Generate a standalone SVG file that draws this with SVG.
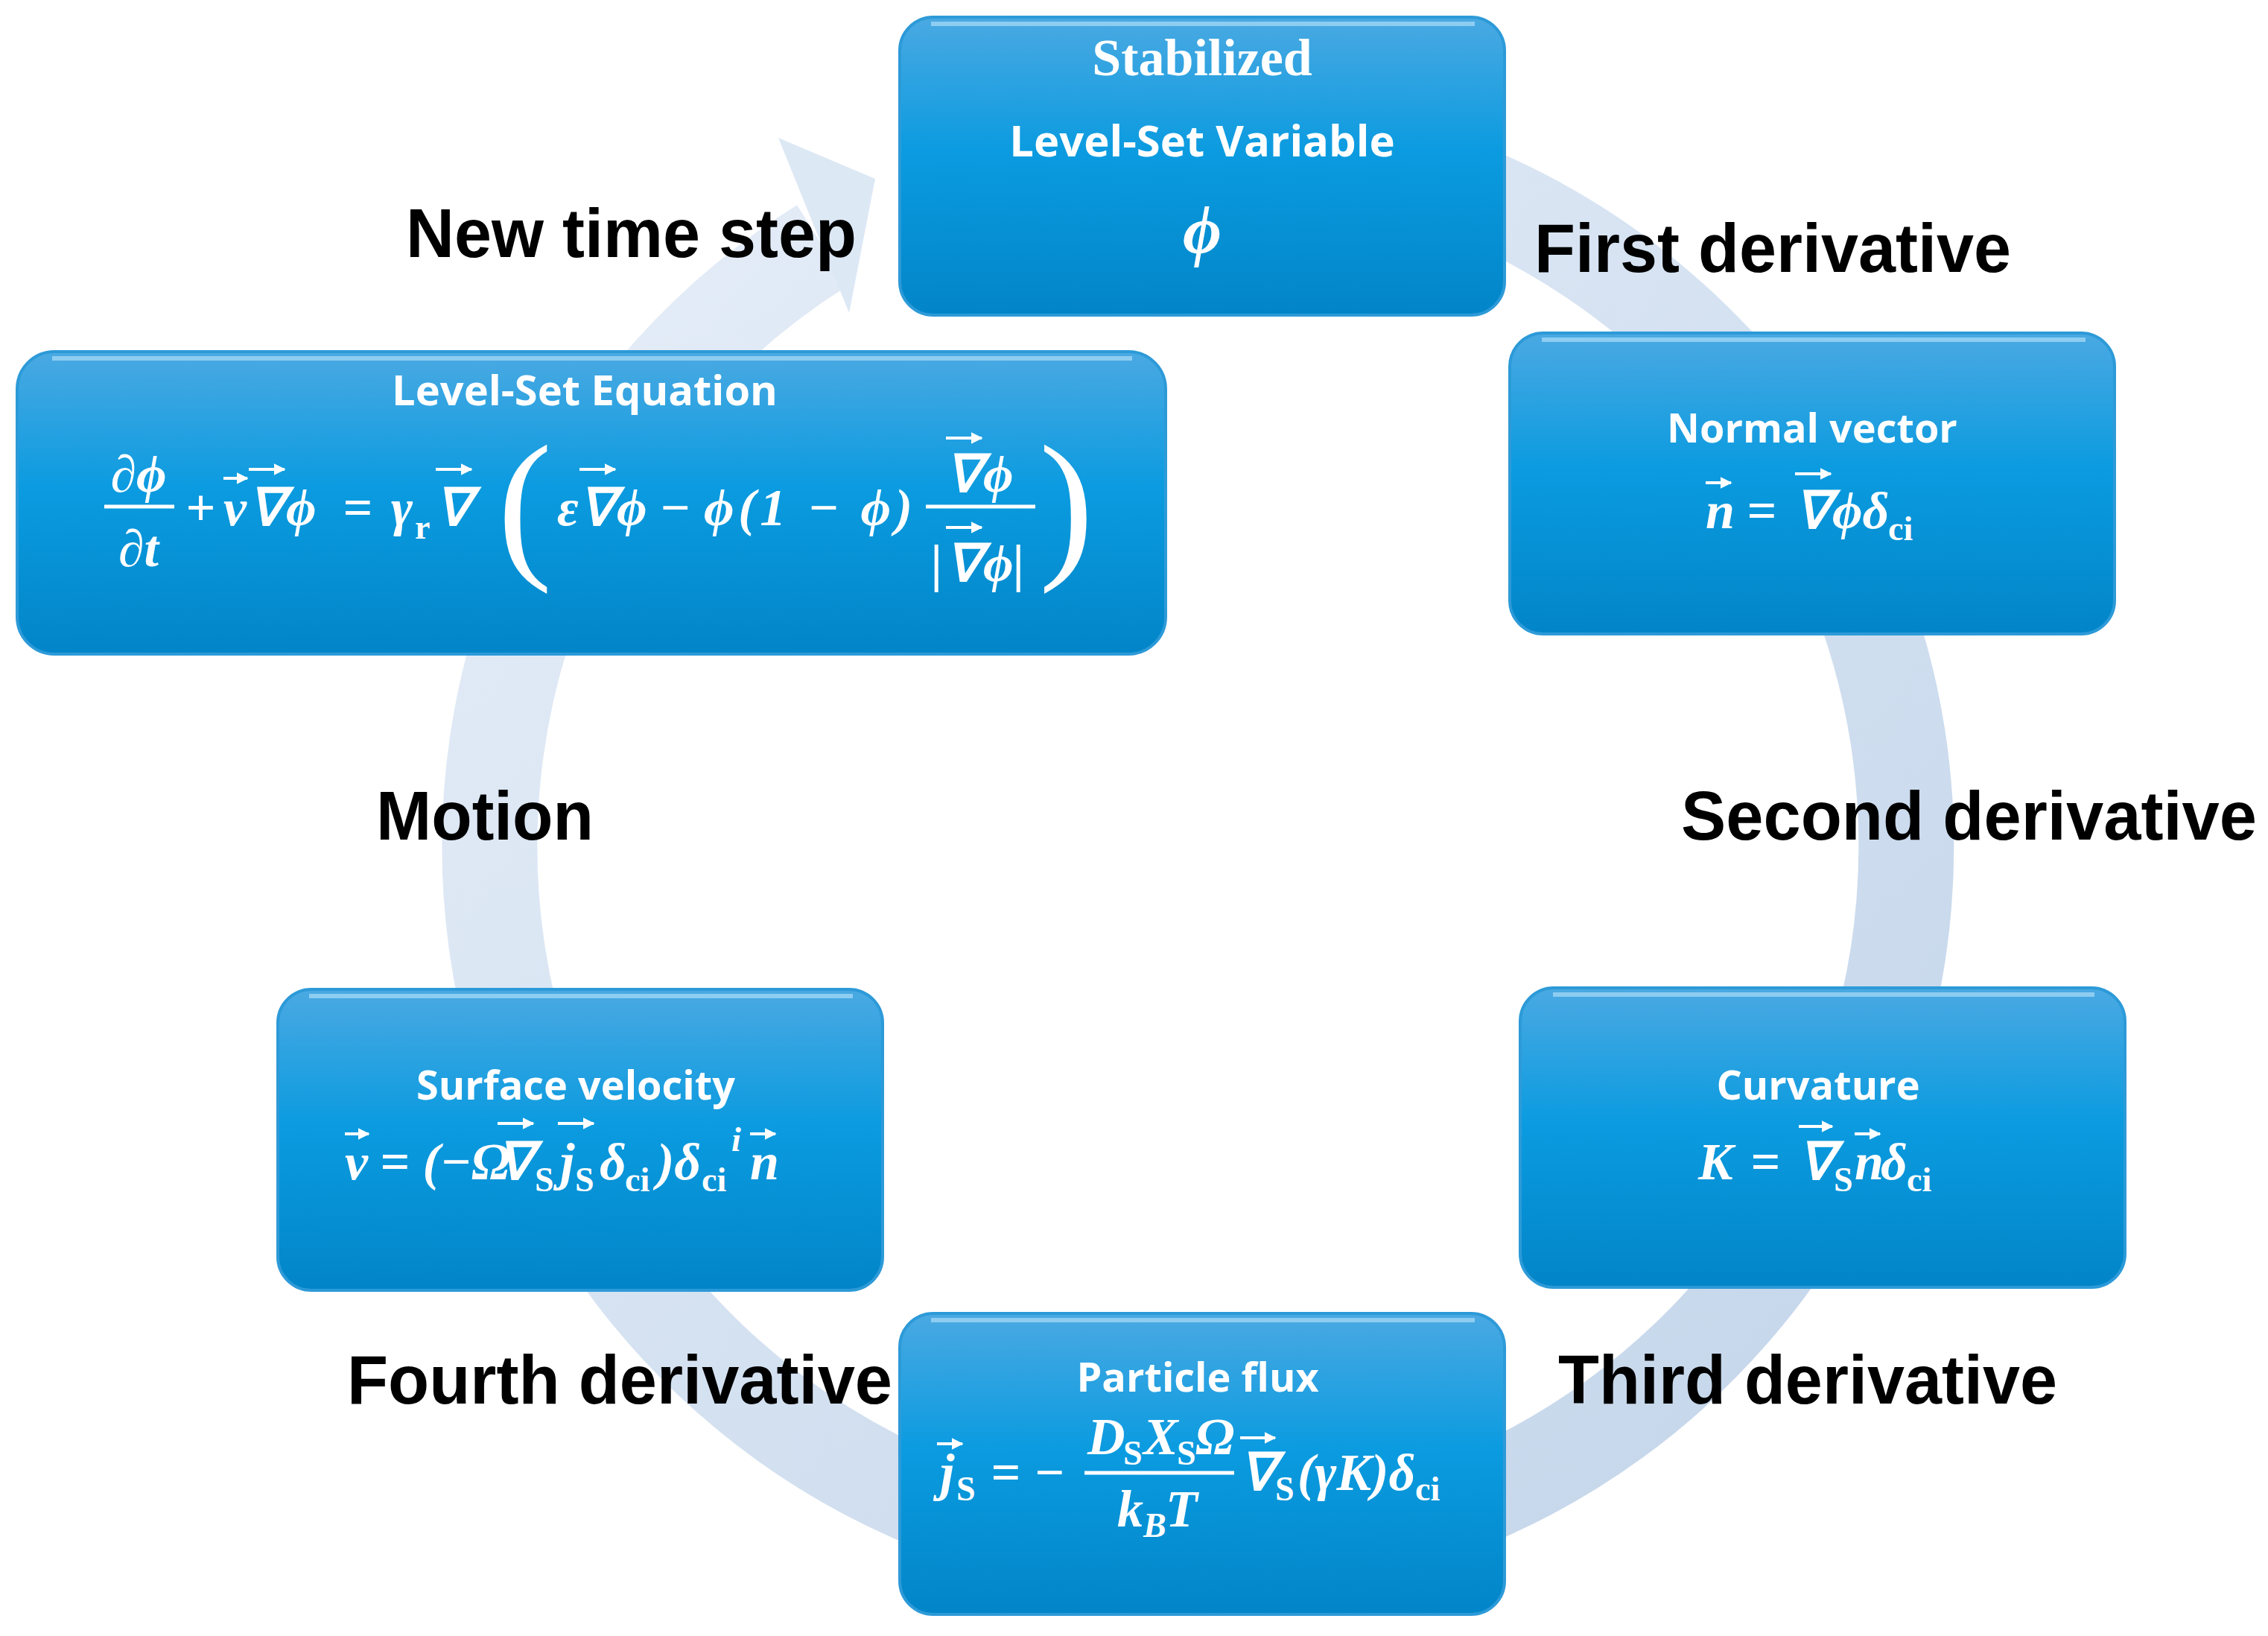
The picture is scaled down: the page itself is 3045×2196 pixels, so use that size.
<svg xmlns="http://www.w3.org/2000/svg" width="3045" height="2196" viewBox="0 0 3045 2196">
<defs>
<linearGradient id="bg" x1="0" y1="0" x2="0" y2="1">
<stop offset="0" stop-color="#4aa9e2"/><stop offset="0.45" stop-color="#0b9be0"/><stop offset="1" stop-color="#0285c8"/>
</linearGradient>
<linearGradient id="ringg" x1="0" y1="0" x2="1" y2="1">
<stop offset="0" stop-color="#e6eef8"/><stop offset="1" stop-color="#c3d5ea"/>
</linearGradient>
<marker id="ah" viewBox="0 0 10 10" refX="9" refY="5" markerWidth="4" markerHeight="4" orient="auto" markerUnits="strokeWidth">
<path d="M0,0 L10,5 L0,10 z" fill="#fff"/>
</marker>
<style>
.box{fill:url(#bg);stroke:#2d9ad8;stroke-width:4}
.hl{fill:none;stroke:#9fd6f5;stroke-width:6;opacity:0.8}
.t{font-family:"Open Sans","Liberation Sans",sans-serif;font-weight:bold;fill:#fff;text-anchor:middle}
.mi{font-family:"Liberation Serif",serif;font-weight:bold;font-style:italic;fill:#fff;font-size:70px}
.mr{font-family:"Liberation Serif",serif;font-weight:bold;font-style:normal;fill:#fff;font-size:46px}
.pa{font-family:"Liberation Serif",serif;font-weight:normal;font-style:normal;fill:#fff;font-size:220px}
.vec{stroke:#fff;stroke-width:4;fill:none;marker-end:url(#ah)}
.lab{font-family:"Liberation Sans",Arial,sans-serif;font-weight:bold;fill:#000;font-size:92px}
</style>
</defs>
<g id="connectors">
<path d="M1854,217 A951,951 0 1 1 1104,329.5" fill="none" stroke="url(#ringg)" stroke-width="128"/>
<polygon points="1045,185 1175,240 1140,420" fill="#dde8f5"/>
</g>
<g id="labels">
<text class="lab" x="545" y="345" textLength="605" lengthAdjust="spacingAndGlyphs">New time step</text>
<text class="lab" x="2060" y="365" textLength="640" lengthAdjust="spacingAndGlyphs">First derivative</text>
<text class="lab" x="2257" y="1127" textLength="773" lengthAdjust="spacingAndGlyphs">Second derivative</text>
<text class="lab" x="505" y="1127" textLength="292" lengthAdjust="spacingAndGlyphs">Motion</text>
<text class="lab" x="466" y="1884" textLength="732" lengthAdjust="spacingAndGlyphs">Fourth derivative</text>
<text class="lab" x="2092" y="1884" textLength="670" lengthAdjust="spacingAndGlyphs">Third derivative</text>
</g>
<g id="top">
<rect class="box" x="1208" y="23" width="812" height="400" rx="45"/>
<path class="hl" d="M1250,32 H1980"/>
<text class="t" x="1614" y="101" font-size="70" style="font-family:'Liberation Serif',serif">Stabilized</text>
<text class="t" x="1614" y="210" font-size="58">Level-Set Variable</text>
<text class="mi" x="1614" y="340" style="font-size:90px" text-anchor="middle">ϕ</text>
</g>
<g id="levelset">
<rect class="box" x="23" y="472" width="1542" height="406" rx="50"/>
<path class="hl" d="M70,481 H1520"/>
<text class="t" x="785" y="544" font-size="56">Level-Set Equation</text>
<text class="mi" x="186" y="660" text-anchor="middle">∂ϕ</text>
<line x1="140" y1="680" x2="234" y2="680" stroke="#fff" stroke-width="5"/>
<text class="mi" x="186" y="760" text-anchor="middle">∂t</text>
<text class="mi" x="249" y="705">+</text>
<text class="mi" x="300" y="705">v</text><path class="vec" d="M300,642 H332"/>
<text class="mi" x="334" y="705">∇</text><path class="vec" d="M334,630 H382"/>
<text class="mi" x="384" y="705">ϕ</text>
<text class="mi" x="460" y="705">=</text>
<text class="mi" x="525" y="705">γ</text><text class="mr" x="557" y="723">r</text>
<text class="mi" x="585" y="705">∇</text><path class="vec" d="M585,630 H633"/>
<text class="pa" x="668" y="750">(</text>
<text class="mi" x="748" y="705">ε</text>
<text class="mi" x="778" y="705">∇</text><path class="vec" d="M778,630 H826"/>
<text class="mi" x="828" y="705">ϕ</text>
<text class="mi" x="885" y="705">−</text>
<text class="mi" x="945" y="705" textLength="280">ϕ(1 − ϕ)</text>
<text class="mi" x="1270" y="660">∇</text><path class="vec" d="M1270,588 H1318"/>
<text class="mi" x="1320" y="660">ϕ</text>
<line x1="1243" y1="680" x2="1390" y2="680" stroke="#fff" stroke-width="5"/>
<text class="mi" x="1250" y="780">|</text>
<text class="mi" x="1270" y="780">∇</text><path class="vec" d="M1270,708 H1318"/>
<text class="mi" x="1320" y="780">ϕ</text>
<text class="mi" x="1360" y="780">|</text>
<text class="pa" x="1395" y="750">)</text>
</g>
<g id="normal">
<rect class="box" x="2027" y="447" width="812" height="404" rx="45"/>
<path class="hl" d="M2070,456 H2800"/>
<text class="t" x="2433" y="594" font-size="54">Normal vector</text>
<text class="mi" x="2290" y="709">n</text><path class="vec" d="M2290,648 H2324"/>
<text class="mi" x="2345" y="709">=</text>
<text class="mi" x="2410" y="709">∇</text><path class="vec" d="M2410,636 H2458"/>
<text class="mi" x="2460" y="709">ϕδ</text>
<text class="mr" x="2535" y="725">ci</text>
</g>
<g id="curvature">
<rect class="box" x="2041" y="1326" width="812" height="402" rx="45"/>
<path class="hl" d="M2085,1335 H2812"/>
<text class="t" x="2441" y="1476" font-size="54">Curvature</text>
<text class="mi" x="2280" y="1583">K</text>
<text class="mi" x="2350" y="1583">=</text>
<text class="mi" x="2415" y="1583">∇</text><path class="vec" d="M2415,1512 H2460"/>
<text class="mr" x="2462" y="1599">S</text>
<text class="mi" x="2490" y="1583">n</text><path class="vec" d="M2490,1522 H2524"/>
<text class="mi" x="2525" y="1583">δ</text>
<text class="mr" x="2560" y="1599">ci</text>
</g>
<g id="flux">
<rect class="box" x="1208" y="1763" width="812" height="404" rx="45"/>
<path class="hl" d="M1250,1772 H1980"/>
<text class="t" x="1608" y="1868" font-size="54">Particle flux</text>
<text class="mi" x="1262" y="2000">j</text><path class="vec" d="M1258,1938 H1292"/>
<text class="mr" x="1284" y="2014">S</text>
<text class="mi" x="1330" y="2000">= −</text>
<text class="mi" x="1460" y="1952">D</text><text class="mr" x="1508" y="1966">S</text>
<text class="mi" x="1535" y="1952">X</text><text class="mr" x="1580" y="1966">S</text>
<text class="mi" x="1605" y="1952">Ω</text>
<line x1="1456" y1="1977" x2="1657" y2="1977" stroke="#fff" stroke-width="5"/>
<text class="mi" x="1500" y="2049">k</text><text class="mr" x="1535" y="2063" style="font-style:italic">B</text>
<text class="mi" x="1565" y="2049">T</text>
<text class="mi" x="1665" y="2000">∇</text><path class="vec" d="M1665,1930 H1712"/>
<text class="mr" x="1712" y="2014">S</text>
<text class="mi" x="1742" y="2000">(γK)δ</text>
<text class="mr" x="1900" y="2014">ci</text>
</g>
<g id="velocity">
<rect class="box" x="373" y="1328" width="812" height="404" rx="45"/>
<path class="hl" d="M415,1337 H1145"/>
<text class="t" x="773" y="1476" font-size="54">Surface velocity</text>
<text class="mi" x="463" y="1583">v</text><path class="vec" d="M463,1522 H495"/>
<text class="mi" x="510" y="1583">= (−Ω</text>
<text class="mi" x="668" y="1583">∇</text><path class="vec" d="M668,1508 H716"/>
<text class="mr" x="718" y="1599">S</text>
<text class="mi" x="752" y="1583">j</text><path class="vec" d="M749,1508 H797"/>
<text class="mr" x="772" y="1599">S</text>
<text class="mi" x="805" y="1583">δ</text>
<text class="mr" x="839" y="1599">ci</text>
<text class="mi" x="882" y="1583">)δ</text>
<text class="mr" x="942" y="1599">ci</text>
<text class="mr" x="982" y="1545" style="font-style:italic">i</text>
<text class="mi" x="1007" y="1583">n</text><path class="vec" d="M1007,1522 H1041"/>
</g>
</svg>
